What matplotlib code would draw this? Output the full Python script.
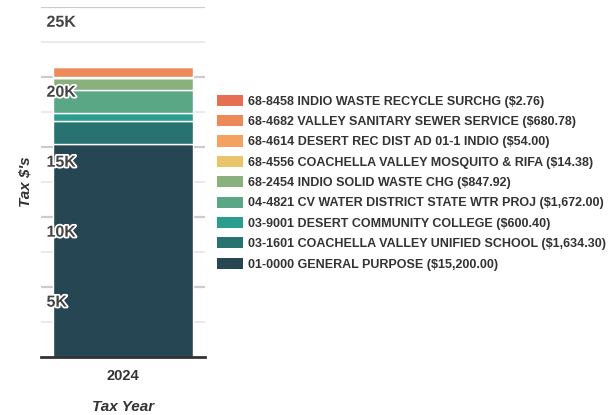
import matplotlib
matplotlib.use('Agg')
import matplotlib.pyplot as plt
import matplotlib.patheffects as pe

plt.rcParams['font.family'] = ['Liberation Sans', 'DejaVu Sans']

years = ['2024']
# stack order bottom -> top
names = ['01-0000 GENERAL PURPOSE',
         '03-1601 COACHELLA VALLEY UNIFIED SCHOOL',
         '03-9001 DESERT COMMUNITY COLLEGE',
         '04-4821 CV WATER DISTRICT STATE WTR PROJ',
         '68-2454 INDIO SOLID WASTE CHG',
         '68-4556 COACHELLA VALLEY MOSQUITO & RIFA',
         '68-4614 DESERT REC DIST AD 01-1 INDIO',
         '68-4682 VALLEY SANITARY SEWER SERVICE',
         '68-8458 INDIO WASTE RECYCLE SURCHG']
amounts = [15200.00, 1634.30, 600.40, 1672.00, 847.92, 14.38, 54.00, 680.78, 2.76]
colors = ['#264653', '#287271', '#2a9d8f', '#5aa786', '#8ab17d',
          '#e9c46a', '#f4a261', '#ee8959', '#e76f51']
yticks = [5000, 10000, 15000, 20000, 25000]
yticklabels = ['5K', '10K', '15K', '20K', '25K']

fig = plt.figure(figsize=(6.08, 4.15), dpi=100)
ax = fig.add_axes([0.0674, 0.1398, 0.27, 0.843])

# gridlines
for v in range(2500, 25001, 2500):
    if v % 5000 == 0:
        ax.axhline(v, color='#cccccc', lw=1.6, zorder=0)
    else:
        ax.axhline(v, color='#e6e6e6', lw=1.2, zorder=0)

bottom = 0
for name, amt, c in zip(names, amounts, colors):
    label = '%s ($%s)' % (name, format(amt, ',.2f'))
    ax.bar(years, [amt], bottom=bottom, width=0.85, color=c,
           edgecolor='white', linewidth=1, label=label, zorder=2)
    bottom += amt

ax.set_xlim(-0.5, 0.5)
ax.set_ylim(0, 25000)
ax.set_yticks([])
for s in ['left', 'right', 'top']:
    ax.spines[s].set_visible(False)
ax.spines['bottom'].set_color('#333333')
ax.spines['bottom'].set_linewidth(2)
ax.spines['bottom'].set_zorder(3)
ax.tick_params(axis='x', length=0, pad=9, labelsize=10.5, labelcolor='#333333')
for t in ax.get_xticklabels():
    t.set_fontweight('bold')

# y labels drawn inside the plot
for v, lab in zip(yticks, yticklabels):
    ax.annotate(lab, xy=(0, v), xycoords=ax.get_yaxis_transform(),
                xytext=(4, -5.5), textcoords='offset points',
                ha='left', va='top', fontsize=11.5, fontweight='bold',
                color='#444444', zorder=4,
                path_effects=[pe.withStroke(linewidth=2.5, foreground='white')])

ax.set_ylabel("Tax $'s", fontsize=11, fontweight='bold', fontstyle='italic',
              color='#333333', labelpad=6)
ax.set_xlabel('Tax Year', fontsize=11, fontweight='bold', fontstyle='italic',
              color='#333333', labelpad=12)

handles, labels = ax.get_legend_handles_labels()
leg = fig.legend(handles[::-1], labels[::-1], loc='center left',
                 bbox_to_anchor=(0.357, 0.56), frameon=False,
                 prop={'size': 9, 'weight': 'bold'},
                 handlelength=2.1, handleheight=1.0, labelspacing=0.6,
                 handletextpad=0.35, borderpad=0, borderaxespad=0)
for t in leg.get_texts():
    t.set_color('#333333')
for h in leg.legend_handles:
    h.set_edgecolor('none')

fig.savefig('out.png', dpi=100)
